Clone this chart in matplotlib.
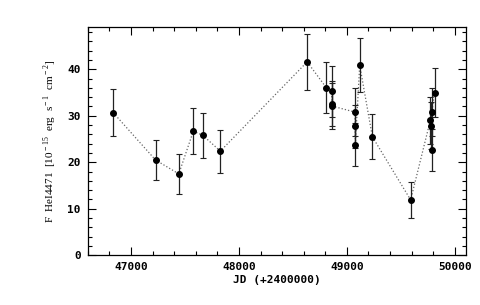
import matplotlib
matplotlib.use("Agg")
import matplotlib.pyplot as plt
import numpy as np
from matplotlib.ticker import MultipleLocator

# JD - 2400000, flux of HeI 4471 and its 1-sigma error
jd = [46834, 47227, 47443, 47577, 47665, 47828, 48632, 48811,
      48858, 48860, 48862, 49074, 49076, 49078, 49119, 49236,
      49591, 49773, 49782, 49785, 49787, 49812]
flux = [30.7, 20.5, 17.5, 26.7, 25.8, 22.4, 41.6, 36.0,
        35.3, 32.6, 32.1, 30.8, 27.7, 23.8, 40.9, 25.5,
        11.9, 29.0, 27.9, 22.6, 30.8, 35.0]
err = [5.1, 4.4, 4.3, 4.9, 4.8, 4.6, 6.0, 5.5,
       5.5, 4.8, 5.0, 5.2, 4.6, 4.6, 5.8, 4.8,
       3.8, 5.0, 5.0, 4.5, 5.2, 5.3]

plt.rcParams['font.family'] = ['DejaVu Sans Mono', 'DejaVu Sans']
plt.rcParams['mathtext.fontset'] = 'custom'
plt.rcParams['mathtext.rm'] = 'Liberation Serif'

fig = plt.figure(figsize=(4.8, 3.05), dpi=100)
ax = fig.add_axes([0.183, 0.163, 0.787, 0.747])

ax.plot(jd, flux, linestyle=':', color='#666666', linewidth=0.9)
ax.errorbar(jd, flux, yerr=err, fmt='o', color='black', ecolor='#222222',
            markersize=4, elinewidth=0.9, capsize=2.5, capthick=0.8)

ax.set_xlim(46600, 50100)
ax.set_ylim(0, 49)
ax.xaxis.set_major_locator(MultipleLocator(1000))
ax.xaxis.set_minor_locator(MultipleLocator(200))
ax.yaxis.set_major_locator(MultipleLocator(10))
ax.yaxis.set_minor_locator(MultipleLocator(2))
ax.tick_params(which='both', direction='in', top=True, right=True,
               labelsize=8, width=0.8)
ax.tick_params(which='major', length=6, pad=5)
ax.tick_params(which='minor', length=3)
for lab in ax.get_xticklabels() + ax.get_yticklabels():
    lab.set_fontweight('bold')
for s in ax.spines.values():
    s.set_linewidth(0.9)

ax.set_xlabel("JD (+2400000)", fontsize=8, fontweight='bold', labelpad=2)
ax.set_ylabel(r"F  HeI4471  [10$^{\rm -15}$  erg  s$^{\rm -1}$  cm$^{\rm -2}$]",
              family='Liberation Serif', fontsize=8, labelpad=6)

fig.savefig("out.png", dpi=100)
